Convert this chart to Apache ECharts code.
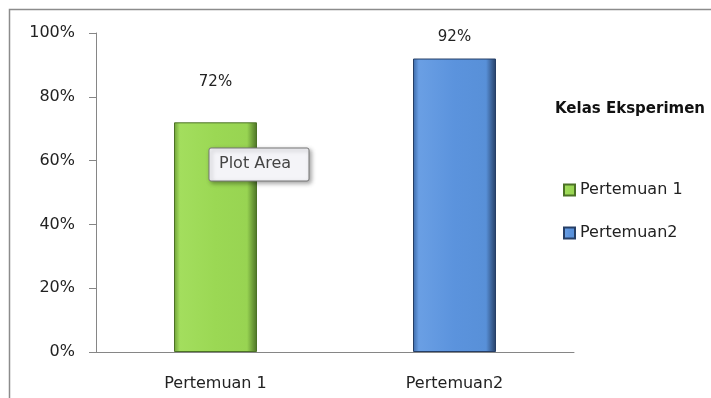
<!DOCTYPE html>
<html><head><meta charset="utf-8">
<script src="https://cdn.jsdelivr.net/npm/echarts@6/dist/echarts.min.js"></script>
<style>html,body{margin:0;padding:0;background:#fff}#c{width:711px;height:398px}</style>
</head><body><div id="c"></div>
<script>
var categories = ['Pertemuan 1', 'Pertemuan2'];
var seriesNames = ['Pertemuan 1', 'Pertemuan2'];
var values = [72, 92];
var yTicks = [0, 20, 40, 60, 80, 100];
var legendTitle = 'Kelas Eksperimen';
var tooltipText = 'Plot Area';

var FONT = 'DejaVu Sans';
var styles = [
  {grad: ['#6f9f38', '#a3de5e', '#9bd854', '#98d452', '#4c7226'], labelDist: 33},
  {grad: ['#3d6aa8', '#6a9fe4', '#5b93dd', '#5890d8', '#263f66'], labelDist: 14}
];
function grad(c) {
  return new echarts.graphic.LinearGradient(0, 0, 1, 0, [
    {offset: 0, color: c[0]}, {offset: 0.07, color: c[1]}, {offset: 0.5, color: c[2]},
    {offset: 0.88, color: c[3]}, {offset: 1, color: c[4]}
  ]);
}
var series = seriesNames.map(function (name, i) {
  return {
    name: name, type: 'bar', stack: 'all', barWidth: 83,
    data: categories.map(function (c, j) { return j === i ? values[i] : null; }),
    itemStyle: {color: grad(styles[i].grad), borderColor: styles[i].grad[4], borderWidth: 1},
    label: {show: true, position: 'top', distance: styles[i].labelDist, formatter: '{c}%',
      fontFamily: FONT, fontSize: 15, color: '#222'}
  };
});

var chart = echarts.init(document.getElementById('c'), null, {renderer: 'canvas'});
chart.setOption({
  animation: false,
  backgroundColor: '#fff',
  color: ['#9bd854', '#5b93dd'],
  title: {text: legendTitle, left: 550, top: 97,
    textStyle: {fontFamily: FONT, fontSize: 15, fontWeight: 'bold', color: '#111'}},
  legend: {orient: 'vertical', left: 558, top: 177, itemGap: 27, itemWidth: 11, itemHeight: 11,
    icon: 'rect', data: seriesNames,
    textStyle: {fontFamily: FONT, fontSize: 16, color: '#222'}},
  grid: {left: 96, top: 33, right: 137, bottom: 46},
  xAxis: {type: 'category', data: categories,
    axisLine: {lineStyle: {color: '#868686'}}, axisTick: {show: false},
    axisLabel: {fontFamily: FONT, fontSize: 16, color: '#222', margin: 24}},
  yAxis: {type: 'value', min: yTicks[0], max: yTicks[yTicks.length - 1], interval: yTicks[1] - yTicks[0],
    axisLine: {show: true, lineStyle: {color: '#868686'}},
    axisTick: {show: true, length: 7, lineStyle: {color: '#868686'}},
    splitLine: {show: false},
    axisLabel: {formatter: '{value}%', fontFamily: FONT, fontSize: 16, color: '#222', margin: 21}},
  graphic: [
    {type: 'polyline', shape: {points: [[9.5, 398], [9.5, 9.5], [711, 9.5]]}, style: {stroke: '#8c8c8c', lineWidth: 1.5, fill: null}},
    {type: 'rect', shape: {x: 209, y: 148, width: 100, height: 33, r: 2},
      style: {fill: '#f4f4f8', stroke: '#777', lineWidth: 1, shadowBlur: 4, shadowOffsetX: 2, shadowOffsetY: 2, shadowColor: 'rgba(0,0,0,0.35)'}, z: 100},
    {type: 'text', left: 219, top: 156, style: {text: tooltipText, font: '16px ' + FONT, fill: '#444'}, z: 101}
  ],
  series: series
});
</script></body></html>
